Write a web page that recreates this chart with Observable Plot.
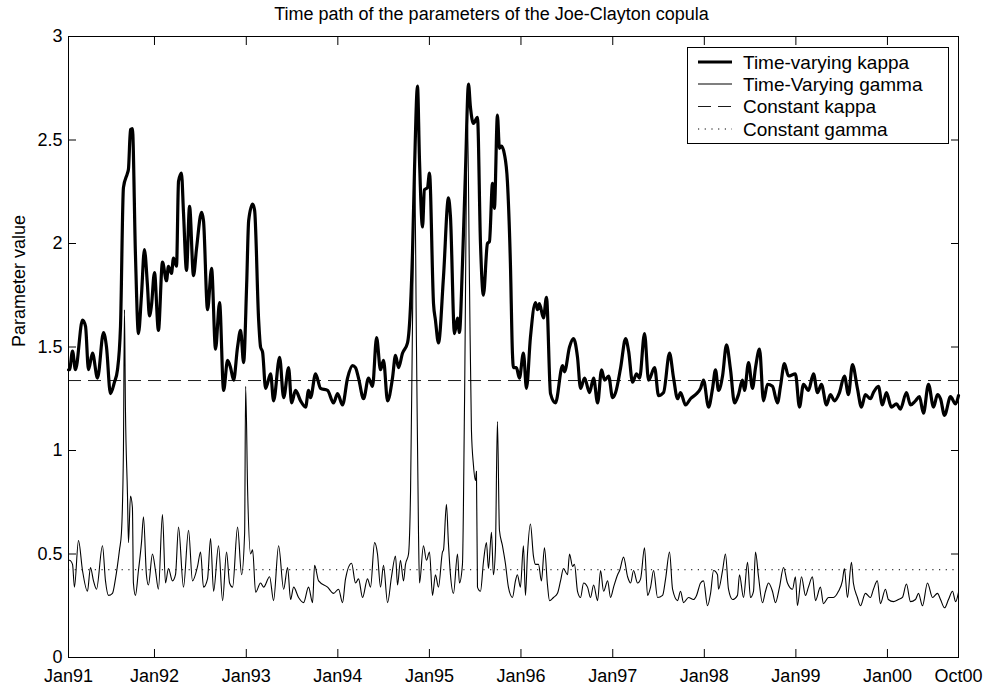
<!DOCTYPE html>
<html>
<head>
<meta charset="utf-8">
<script src="https://cdn.jsdelivr.net/npm/d3@7"></script>
<script src="https://cdn.jsdelivr.net/npm/@observablehq/plot@0.6"></script>
<style>
  html, body { margin: 0; padding: 0; background: #fff; overflow: hidden; }
  #chart { width: 987px; height: 691px; }
</style>
</head>
<body>
<div id="chart"></div>
<script>
// ---------------- data ----------------
const titleText = "Time path of the parameters of the Joe-Clayton copula";
const yLabelText = "Parameter value";
const seriesNames = ["Time-varying kappa", "Time-Varying gamma", "Constant kappa", "Constant gamma"];

const xDomainYears = [1991.061, 2000.774];
const xTickYears = [1991.061, 1992, 1993, 1994, 1995, 1996, 1997, 1998, 1999, 2000, 2000.774];
const xTickLabels = ["Jan91", "Jan92", "Jan93", "Jan94", "Jan95", "Jan96", "Jan97", "Jan98", "Jan99", "Jan00", "Oct00"];
const yTicks = [0, 0.5, 1, 1.5, 2, 2.5, 3];
const yTickLabels = ["0", "0.5", "1", "1.5", "2", "2.5", "3"];

const constantKappa = 1.338;
const constantGamma = 0.424;

const kappaYears = [1991.061,1991.072,1991.105,1991.137,1991.214,1991.247,1991.279,1991.323,1991.378,1991.443,1991.476,1991.519,1991.563,1991.596,1991.629,1991.661,1991.705,1991.716,1991.738,1991.759,1991.792,1991.825,1991.858,1991.890,1991.923,1991.945,1991.967,1992.000,1992.043,1992.087,1992.131,1992.152,1992.185,1992.207,1992.240,1992.262,1992.294,1992.316,1992.349,1992.382,1992.425,1992.458,1992.513,1992.534,1992.578,1992.622,1992.665,1992.709,1992.753,1992.796,1992.829,1992.862,1992.905,1992.938,1992.971,1993.004,1993.026,1993.069,1993.091,1993.135,1993.156,1993.178,1993.211,1993.266,1993.298,1993.364,1993.408,1993.462,1993.495,1993.538,1993.593,1993.648,1993.680,1993.702,1993.757,1993.811,1993.888,1993.953,1993.997,1994.051,1994.106,1994.161,1994.193,1994.226,1994.281,1994.335,1994.379,1994.423,1994.466,1994.499,1994.543,1994.597,1994.630,1994.663,1994.706,1994.761,1994.794,1994.815,1994.837,1994.870,1994.892,1994.925,1994.946,1994.979,1995.001,1995.045,1995.066,1995.099,1995.154,1995.208,1995.230,1995.274,1995.307,1995.328,1995.361,1995.394,1995.427,1995.448,1995.481,1995.525,1995.558,1995.590,1995.634,1995.656,1995.689,1995.710,1995.743,1995.765,1995.787,1995.820,1995.852,1995.885,1995.907,1995.918,1995.950,1995.983,1996.027,1996.060,1996.103,1996.158,1996.180,1996.201,1996.245,1996.278,1996.322,1996.376,1996.453,1996.474,1996.529,1996.573,1996.616,1996.649,1996.693,1996.747,1996.791,1996.835,1996.878,1996.911,1996.955,1996.998,1997.031,1997.086,1997.140,1997.173,1997.216,1997.260,1997.293,1997.347,1997.391,1997.457,1997.500,1997.555,1997.620,1997.664,1997.708,1997.740,1997.795,1997.849,1997.904,1997.959,1997.991,1998.046,1998.090,1998.122,1998.155,1998.199,1998.242,1998.286,1998.330,1998.373,1998.417,1998.439,1998.483,1998.526,1998.559,1998.603,1998.646,1998.690,1998.744,1998.799,1998.832,1998.875,1998.919,1998.995,1999.039,1999.083,1999.137,1999.192,1999.236,1999.279,1999.334,1999.377,1999.421,1999.476,1999.530,1999.574,1999.618,1999.672,1999.716,1999.759,1999.814,1999.847,1999.901,1999.945,1999.989,2000.043,2000.098,2000.141,2000.207,2000.251,2000.305,2000.349,2000.392,2000.447,2000.502,2000.545,2000.578,2000.622,2000.687,2000.742,2000.774];
const kappaValues = [1.39,1.39,1.48,1.39,1.63,1.60,1.39,1.47,1.35,1.57,1.50,1.275,1.33,1.39,1.60,2.27,2.34,2.36,2.55,2.555,1.95,1.565,1.75,1.97,1.80,1.65,1.70,1.86,1.58,1.91,1.82,1.89,1.855,1.93,1.89,2.30,2.34,2.15,1.87,2.18,1.845,1.975,2.15,2.11,1.68,1.88,1.49,1.715,1.29,1.435,1.40,1.34,1.50,1.58,1.425,1.80,2.11,2.19,2.16,1.63,1.50,1.475,1.30,1.37,1.24,1.45,1.255,1.40,1.23,1.29,1.24,1.21,1.29,1.255,1.37,1.30,1.29,1.23,1.275,1.22,1.35,1.41,1.40,1.35,1.25,1.35,1.31,1.545,1.39,1.435,1.24,1.35,1.46,1.40,1.47,1.52,1.70,1.95,2.35,2.76,2.40,2.08,2.26,2.27,2.34,1.71,1.63,1.52,1.84,2.22,2.13,1.565,1.64,1.57,1.90,2.35,2.77,2.66,2.58,2.61,2.00,1.75,2.00,2.01,2.29,2.17,2.62,2.46,2.47,2.43,2.30,1.90,1.47,1.40,1.40,1.35,1.47,1.30,1.545,1.715,1.68,1.71,1.64,1.74,1.275,1.23,1.41,1.38,1.50,1.54,1.45,1.30,1.35,1.28,1.35,1.23,1.39,1.34,1.36,1.255,1.28,1.40,1.54,1.48,1.33,1.37,1.35,1.565,1.34,1.40,1.265,1.28,1.47,1.35,1.25,1.28,1.22,1.25,1.27,1.30,1.34,1.21,1.30,1.39,1.29,1.36,1.51,1.39,1.23,1.27,1.34,1.29,1.425,1.30,1.40,1.49,1.24,1.32,1.31,1.23,1.31,1.42,1.36,1.37,1.21,1.32,1.29,1.37,1.28,1.32,1.22,1.27,1.24,1.28,1.36,1.27,1.415,1.30,1.21,1.27,1.25,1.28,1.31,1.22,1.28,1.21,1.225,1.20,1.28,1.22,1.24,1.26,1.18,1.32,1.21,1.27,1.25,1.17,1.26,1.225,1.265];

const gammaYears = [1991.061,1991.072,1991.105,1991.126,1991.170,1991.214,1991.268,1991.301,1991.334,1991.367,1991.432,1991.465,1991.498,1991.541,1991.574,1991.618,1991.639,1991.661,1991.672,1991.683,1991.705,1991.716,1991.738,1991.759,1991.770,1991.792,1991.825,1991.858,1991.880,1991.912,1991.934,1991.978,1992.011,1992.043,1992.087,1992.120,1992.152,1992.196,1992.229,1992.262,1992.316,1992.371,1992.414,1992.469,1992.502,1992.534,1992.578,1992.611,1992.644,1992.698,1992.742,1992.785,1992.818,1992.851,1992.905,1992.949,1992.982,1992.993,1993.015,1993.047,1993.069,1993.102,1993.156,1993.189,1993.255,1993.298,1993.353,1993.408,1993.451,1993.484,1993.517,1993.571,1993.626,1993.680,1993.724,1993.746,1993.790,1993.888,1993.953,1994.008,1994.051,1994.084,1994.150,1994.193,1994.226,1994.270,1994.324,1994.357,1994.401,1994.433,1994.466,1994.499,1994.543,1994.586,1994.630,1994.652,1994.684,1994.717,1994.739,1994.772,1994.794,1994.815,1994.837,1994.859,1994.881,1994.892,1994.935,1994.968,1995.001,1995.034,1995.066,1995.099,1995.143,1995.154,1995.186,1995.208,1995.230,1995.263,1995.307,1995.328,1995.361,1995.383,1995.416,1995.438,1995.459,1995.481,1995.503,1995.514,1995.525,1995.558,1995.590,1995.623,1995.645,1995.678,1995.699,1995.721,1995.743,1995.765,1995.798,1995.830,1995.863,1995.907,1995.940,1995.961,1995.994,1996.027,1996.049,1996.071,1996.103,1996.136,1996.158,1996.191,1996.223,1996.256,1996.289,1996.311,1996.354,1996.398,1996.431,1996.463,1996.507,1996.529,1996.562,1996.583,1996.616,1996.649,1996.682,1996.725,1996.758,1996.791,1996.835,1996.867,1996.900,1996.944,1996.976,1997.009,1997.053,1997.075,1997.118,1997.162,1997.195,1997.227,1997.271,1997.304,1997.347,1997.380,1997.413,1997.446,1997.489,1997.544,1997.577,1997.620,1997.653,1997.708,1997.740,1997.773,1997.828,1997.882,1997.915,1997.959,1997.991,1998.035,1998.068,1998.101,1998.144,1998.155,1998.199,1998.231,1998.264,1998.308,1998.362,1998.384,1998.428,1998.472,1998.504,1998.537,1998.559,1998.592,1998.635,1998.668,1998.701,1998.744,1998.777,1998.821,1998.865,1998.908,1998.963,1998.995,1999.017,1999.061,1999.105,1999.137,1999.181,1999.214,1999.268,1999.301,1999.356,1999.410,1999.465,1999.508,1999.530,1999.563,1999.607,1999.628,1999.672,1999.705,1999.759,1999.814,1999.847,1999.890,1999.923,1999.978,2000.010,2000.065,2000.120,2000.163,2000.207,2000.251,2000.305,2000.338,2000.382,2000.436,2000.491,2000.545,2000.578,2000.622,2000.665,2000.709,2000.742,2000.774];
const gammaValues = [0.47,0.47,0.45,0.34,0.565,0.42,0.32,0.435,0.37,0.33,0.54,0.37,0.30,0.31,0.38,0.52,0.60,1.0,1.68,1.2,0.79,0.555,0.78,0.725,0.36,0.30,0.42,0.555,0.68,0.40,0.35,0.50,0.42,0.33,0.69,0.36,0.43,0.37,0.40,0.63,0.34,0.615,0.37,0.44,0.51,0.34,0.38,0.575,0.32,0.54,0.275,0.51,0.36,0.34,0.63,0.40,0.60,1.31,0.80,0.50,0.52,0.315,0.36,0.34,0.39,0.275,0.54,0.33,0.435,0.28,0.34,0.29,0.265,0.34,0.265,0.445,0.37,0.34,0.31,0.33,0.265,0.38,0.455,0.36,0.38,0.29,0.38,0.34,0.555,0.50,0.34,0.445,0.265,0.39,0.49,0.35,0.47,0.37,0.45,0.50,0.80,1.60,2.41,1.50,0.60,0.36,0.54,0.47,0.51,0.30,0.40,0.34,0.51,0.52,0.74,0.55,0.40,0.31,0.50,0.36,0.45,1.20,2.60,1.80,1.10,0.93,0.855,0.90,0.34,0.32,0.46,0.555,0.43,0.605,0.40,0.52,1.14,0.615,0.54,0.455,0.34,0.29,0.37,0.40,0.34,0.54,0.30,0.50,0.645,0.49,0.45,0.45,0.37,0.53,0.35,0.275,0.29,0.31,0.37,0.43,0.40,0.50,0.44,0.45,0.32,0.29,0.36,0.34,0.29,0.35,0.275,0.42,0.32,0.37,0.29,0.34,0.40,0.42,0.485,0.39,0.36,0.42,0.36,0.38,0.53,0.30,0.34,0.42,0.29,0.30,0.38,0.51,0.33,0.275,0.32,0.265,0.29,0.28,0.30,0.36,0.37,0.25,0.31,0.42,0.40,0.33,0.42,0.50,0.33,0.28,0.30,0.40,0.29,0.46,0.29,0.32,0.51,0.39,0.265,0.32,0.36,0.32,0.265,0.34,0.435,0.36,0.33,0.39,0.25,0.39,0.30,0.34,0.39,0.275,0.34,0.26,0.29,0.29,0.32,0.37,0.43,0.29,0.46,0.36,0.29,0.25,0.31,0.29,0.33,0.37,0.26,0.33,0.28,0.27,0.28,0.29,0.355,0.27,0.28,0.31,0.25,0.36,0.29,0.31,0.28,0.24,0.28,0.32,0.27,0.315];

// ---------------- helpers ----------------
function yearToDate(y) {
  const yr = Math.floor(y);
  const a = Date.UTC(yr, 0, 1), b = Date.UTC(yr + 1, 0, 1);
  return new Date(a + (y - yr) * (b - a));
}
function buildSeries(years, values) {
  const n = Math.min(years.length, values.length);
  return d3.range(n).map(i => ({date: yearToDate(years[i]), value: values[i]}));
}
const kappaData = buildSeries(kappaYears, kappaValues);
const gammaData = buildSeries(gammaYears, gammaValues);
const xTickDates = xTickYears.map(yearToDate);
const xLabelOf = new Map(xTickDates.map((d, i) => [+d, xTickLabels[i]]));
const yLabelOf = new Map(yTicks.map((d, i) => [d, yTickLabels[i]]));

const FONT = "'Liberation Sans', Arial, Helvetica, sans-serif";

const chart = Plot.plot({
  width: 987,
  height: 691,
  marginLeft: 68,
  marginRight: 29,
  marginTop: 36,
  marginBottom: 34,
  style: {fontFamily: FONT, fontSize: "18px", background: "white", color: "black", overflow: "visible"},
  x: {type: "utc", domain: xDomainYears.map(yearToDate), label: null},
  y: {domain: [0, 3], label: null},
  marks: [
    Plot.ruleY([constantKappa], {stroke: "black", strokeWidth: 0.9, strokeDasharray: "13,7"}),
    Plot.ruleY([constantGamma], {stroke: "black", strokeWidth: 1, strokeDasharray: "1.2,5.5"}),
    Plot.line(gammaData, {x: "date", y: "value", stroke: "black", strokeWidth: 1.1, curve: "monotone-x"}),
    Plot.line(kappaData, {x: "date", y: "value", stroke: "black", strokeWidth: 3.2, strokeLinejoin: "round", curve: "monotone-x"}),
    Plot.frame({stroke: "black", strokeWidth: 1}),
    // tick labels
    Plot.axisX(xTickDates, {anchor: "bottom", tickSize: 0, tickPadding: 12, tickFormat: d => xLabelOf.get(+d), label: null}),
    Plot.axisY(yTicks, {anchor: "left", tickSize: 0, tickPadding: 6, tickFormat: d => yLabelOf.get(d), label: null}),
    // inward ticks on all four sides
    Plot.axisX(xTickDates, {anchor: "bottom", tickSize: -8, fill: "none", label: null}),
    Plot.axisX(xTickDates, {anchor: "top", tickSize: -8, fill: "none", label: null}),
    Plot.axisY(yTicks, {anchor: "left", tickSize: -8, fill: "none", label: null}),
    Plot.axisY(yTicks, {anchor: "right", tickSize: -8, fill: "none", label: null}),
    // title and y label
    Plot.text([titleText], {text: d => d, frameAnchor: "top", dy: -22, dx: -22, lineAnchor: "middle", fontSize: 18}),
    Plot.text([yLabelText], {text: d => d, frameAnchor: "left", dx: -49, rotate: -90, lineAnchor: "middle", fontSize: 18})
  ]
});

// ---------------- legend (drawn inside the svg) ----------------
const svg = d3.select(chart);
const lg = svg.append("g").attr("class", "legend")
  .style("font-family", FONT).style("font-size", "19px").attr("text-anchor", "start");
lg.append("rect")
  .attr("x", 687.5).attr("y", 47.5).attr("width", 261).attr("height", 96)
  .attr("fill", "white").attr("stroke", "black").attr("stroke-width", 1);
const legendStyles = [
  {w: 3.2, dash: null},
  {w: 1.1, dash: null},
  {w: 0.9, dash: "13,7"},
  {w: 1, dash: "1.2,5.5"}
];
const rowY = [62, 84, 106.5, 129];
seriesNames.forEach((name, i) => {
  const ln = lg.append("line")
    .attr("x1", 698).attr("x2", 732).attr("y1", rowY[i]).attr("y2", rowY[i])
    .attr("stroke", "black").attr("stroke-width", legendStyles[i].w);
  if (legendStyles[i].dash) ln.attr("stroke-dasharray", legendStyles[i].dash);
  lg.append("text").attr("x", 743).attr("y", rowY[i]).attr("dy", "0.35em")
    .attr("text-anchor", "start").attr("fill", "black").text(name);
});

document.getElementById("chart").appendChild(chart);
</script>
</body>
</html>
